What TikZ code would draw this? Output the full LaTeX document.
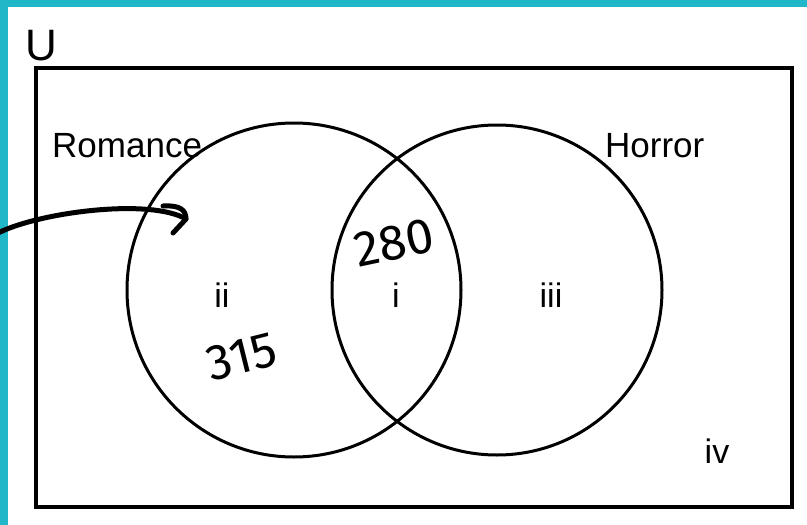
\documentclass[tikz,border=0pt]{standalone}
\usepackage{fontspec}
\setmainfont{Liberation Sans}
\newfontfamily\handfont{Fira Sans}
\usetikzlibrary{arrows.meta}
\definecolor{frameteal}{RGB}{32,183,200}
\begin{document}
\begin{tikzpicture}[x=1pt,y=-1pt,
  setbox/.style={draw=black,line width=4.5pt},
  setcirc/.style={draw=black,line width=3pt},
  lbl/.style={inner sep=0pt,font=\fontsize{35}{40}\selectfont},
  region/.style={inner sep=0pt,font=\fontsize{34}{40}\selectfont},
  hand/.style={inner sep=0pt,font=\handfont\fontsize{50}{56}\selectfont},
  ink/.style={draw=black,line width=5pt,line cap=round,line join=round}]
\useasboundingbox (0,0) rectangle (807,525);
\fill[white] (0,0) rectangle (807,525);
\fill[frameteal] (0,0) rectangle (807,7);
\fill[frameteal] (0,0) rectangle (8,525);
% universe
\draw[setbox] (36,68) rectangle (792,507);
\node[inner sep=0pt,font=\fontsize{44}{48}\selectfont,anchor=base] (U) at (41,60) {U};
% circles
\draw[setcirc] (294,290) circle[radius=167] coordinate (romC);
\draw[setcirc] (497,290) circle[radius=165] coordinate (horC);
\node[lbl,anchor=base west] (rom) at (52,157) {Romance};
\node[lbl,anchor=base west] (hor) at (605,157) {Horror};
% region labels
\node[region,anchor=base] (rii) at (222,307) {ii};
\node[region,anchor=base] (ri) at (396,307) {i};
\node[region,anchor=base] (riii) at (551,307) {iii};
\node[region,anchor=base] (riv) at (717,463) {iv};
% handwritten numbers
\node[hand,rotate=12] (n280) at (394,243) {280};
\node[hand,rotate=14] (n315) at (242,357) {315};
% handwritten arrow
\coordinate (arrS) at (-2,233);
\coordinate (arrE) at (186,219);
\draw[ink] (arrS) .. controls (40,212) and (150,198) .. (arrE);
\draw[ink] (163,206) .. controls (180,205) and (186,210) .. (arrE) -- (173,233);
\end{tikzpicture}
\end{document}
